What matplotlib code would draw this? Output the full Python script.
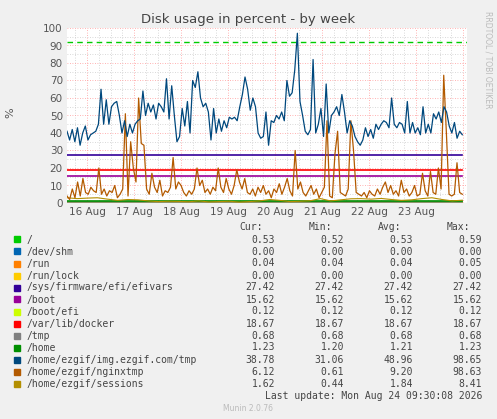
import numpy as np
import matplotlib
matplotlib.use("Agg")
import matplotlib.pyplot as plt
from matplotlib.patches import Rectangle

days = ["16 Aug", "17 Aug", "18 Aug", "19 Aug", "20 Aug", "21 Aug", "22 Aug", "23 Aug"]
x_start, x_end = -0.43, 8.08

img_tmp = [41,36,42,35,43,33,40,44,36,39,40,41,45,65,45,59,45,55,57,58,50,40,47,38,45,40,45,47,48,64,
           50,57,52,56,48,57,55,52,71,48,67,50,35,38,54,44,58,40,70,66,75,60,55,57,52,36,54,40,48,41,
           47,43,49,48,49,47,55,62,72,65,53,60,55,40,37,38,52,33,47,46,50,48,52,47,70,61,63,76,97,58,
           50,41,39,42,82,40,45,54,38,68,40,50,52,55,50,62,52,40,47,44,38,35,33,36,43,38,42,37,45,42,
           45,47,46,43,60,45,43,46,45,40,58,40,46,40,43,39,55,40,45,40,51,48,52,46,55,52,44,40,46,37,41,39]
nginxtmp = [4,2,8,3,12,4,14,6,5,9, 7,6,20,5,8,4,7,6,10,3, 5,8,51,4,35,20,12,60,34,33,
            8,5,17,9,6,13,4,7,6,9, 26,8,12,10,6,4,7,5,8,20, 10,13,6,8,5,9,7,20,9,6,
            14,8,5,10,19,12,8,14,6,5, 8,4,9,6,10,5,7,3,8,6, 11,5,9,14,7,4,30,8,12,6,
            4,7,10,5,8,3,6,9,47,4, 3,28,41,6,5,4,8,47,30,6, 5,4,6,3,7,5,4,8,5,9,
            12,6,10,5,7,4,13,6,8,4, 6,10,4,5,17,7,4,18,6,5, 20,8,73,40,5,4,5,23,6,5]
sessions = [3,2.5,2.8,3,2.2,1.5,2,1.8,1.2,0.8,1,0.9,0.7,1.2,0.6,0.8,1,0.5,0.8,1.2,
            2,1.5,0.8,1,1.3,2.5,1.2,1.8,2.4,2.5,2.2,2.6,2,1.5,1.8,2.5,3,2,1.2,1.6]
warning = 92

names = ["/", "/dev/shm", "/run", "/run/lock", "/sys/firmware/efi/efivars", "/boot", "/boot/efi",
         "/var/lib/docker", "/tmp", "/home", "/home/ezgif/img.ezgif.com/tmp", "/home/ezgif/nginxtmp",
         "/home/ezgif/sessions"]
colors = ["#00CC00", "#0066B3", "#FF8000", "#FFCC00", "#330099", "#990099", "#CCFF00",
          "#FF0000", "#808080", "#008F00", "#00487D", "#B35A00", "#B38F00"]
cur = [0.53,0.00,0.04,0.00,27.42,15.62,0.12,18.67,0.68,1.23,38.78,6.12,1.62]
mn  = [0.52,0.00,0.04,0.00,27.42,15.62,0.12,18.67,0.68,1.20,31.06,0.61,0.44]
avg = [0.53,0.00,0.04,0.00,27.42,15.62,0.12,18.67,0.68,1.21,48.96,9.20,1.84]
mx  = [0.59,0.00,0.05,0.00,27.42,15.62,0.12,18.67,0.68,1.23,98.65,98.63,8.41]

W, H = 497, 419
fig = plt.figure(figsize=(W/100, H/100), dpi=100, facecolor="#F0F0F0")
ax = fig.add_axes([67/W, 1-203/H, 400/W, 175/H], facecolor="white")

# grid
for v in np.arange(x_start, x_end, 0.25):
    pass
for d in np.arange(-0.25, 8.1, 0.25):
    if x_start < d < x_end:
        major = abs(d - round(d)) < 1e-6
        ax.axvline(d, color="#FF9999" if major else "#CCCCCC", lw=0.6, ls=(0, (1, 2)), zorder=0)
for y in range(5, 101, 5):
    ax.axhline(y, color="#FF9999" if y % 10 == 0 else "#CCCCCC", lw=0.6, ls=(0, (1, 2)), zorder=0)

ax.axhline(warning, color="#00CC00", lw=1, ls=(0, (4, 3)), zorder=2)
for i in [0, 1, 2, 3, 4, 5, 6, 7, 8, 9]:
    ax.plot([x_start, x_end - 0.1], [cur[i], cur[i]], color=colors[i], lw=1.2, zorder=3)
xs = np.linspace(x_start, x_end - 0.1, len(sessions))
ax.plot(xs, sessions, color=colors[12], lw=0.8, zorder=3)
xo = np.linspace(x_start, x_end - 0.1, len(nginxtmp))
ax.plot(xo, nginxtmp, color=colors[11], lw=0.9, zorder=4)
xb = np.linspace(x_start, x_end - 0.1, len(img_tmp))
ax.plot(xb, img_tmp, color=colors[10], lw=0.9, zorder=5)

ax.set_xlim(x_start, x_end)
ax.set_ylim(0, 100)
ax.set_yticks(range(0, 101, 10))
ax.set_xticks(range(8))
ax.set_xticklabels(days)
ax.tick_params(colors="#555555", labelsize=7.5, length=0, pad=3)
for s in ax.spines.values():
    s.set_visible(False)
ax.axhline(0, color="#AAAAAA", lw=0.8, zorder=6)

fig.text(248/W, 1-19/H, "Disk usage in percent - by week", ha="center", va="center", fontsize=9.5, color="#444444")
fig.text(10/W, 1-113/H, "%", ha="center", va="center", rotation=90, fontsize=8, color="#555555")
fig.text(488/W, 1-60/H, "RRDTOOL / TOBI OETIKER", ha="center", va="center", rotation=270, fontsize=5.5, color="#BBBBBB")

mono = dict(family="DejaVu Sans Mono", fontsize=7, color="#444444")
ty = 1-227/H
for hx, h in zip([263, 332, 401, 470], ["Cur:", "Min:", "Avg:", "Max:"]):
    fig.text(hx/W, ty, h, ha="right", va="center", **mono)
for i, n in enumerate(names):
    yy = 239.5 + 12*i
    fig.patches.append(Rectangle((14/W, 1-(yy+3)/H), 6/W, 6/H, transform=fig.transFigure, color=colors[i]))
    fig.text(27/W, 1-yy/H, n, ha="left", va="center", **mono)
    for cx, vals in zip([275, 344, 413, 482], [cur, mn, avg, mx]):
        fig.text(cx/W, 1-yy/H, f"{vals[i]:.2f}", ha="right", va="center", **mono)
fig.text(482/W, 1-396/H, "Last update: Mon Aug 24 09:30:08 2026", ha="right", va="center", **mono)
fig.text(248/W, 1-408/H, "Munin 2.0.76", ha="center", va="center", fontsize=5.5, color="#BBBBBB")

fig.savefig("out.png", dpi=100, facecolor=fig.get_facecolor())
